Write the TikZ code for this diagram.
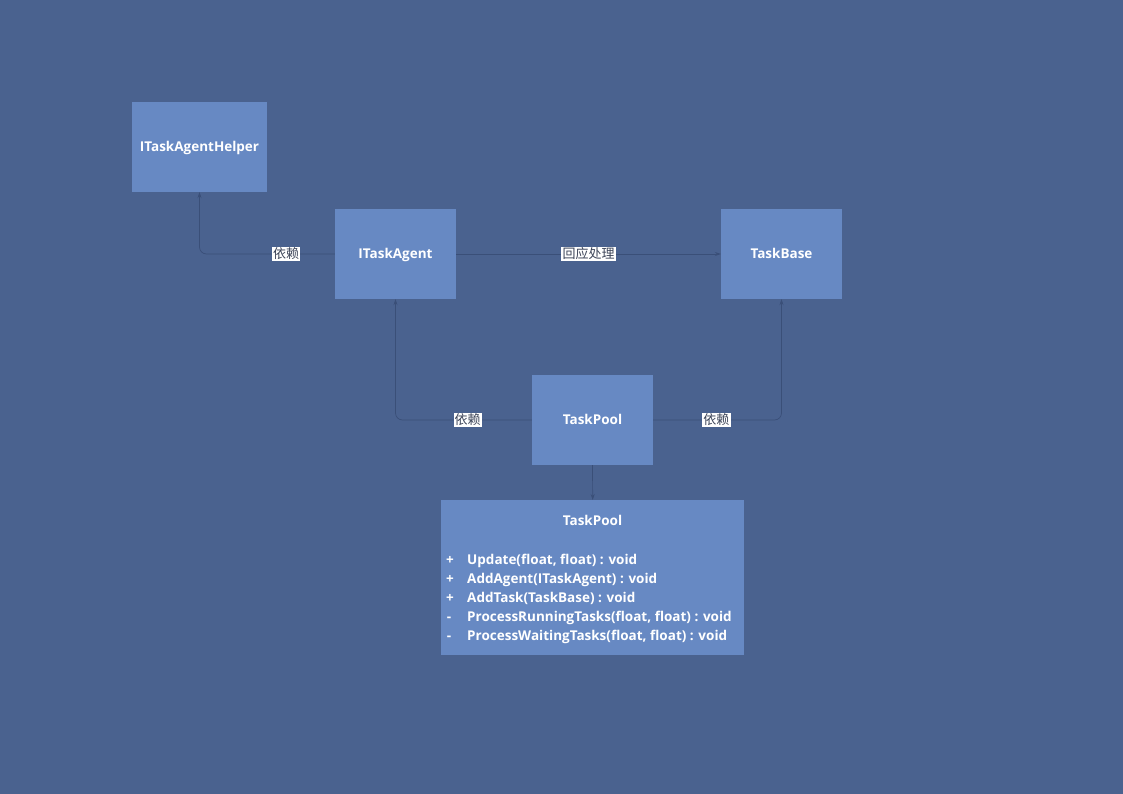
\documentclass[tikz,border=0pt]{standalone}
\usepackage{fontspec}
\setmainfont{Open Sans}
\newfontfamily\cjk{Noto Sans CJK SC}
\usetikzlibrary{arrows.meta}
\definecolor{bgblue}{RGB}{74,98,143}
\definecolor{boxblue}{RGB}{103,137,195}
\definecolor{linkblue}{RGB}{58,79,120}
\definecolor{labeltext}{RGB}{60,68,88}
\begin{document}
\begin{tikzpicture}[x=1pt,y=-1pt,
  cls/.style={fill=boxblue, draw=none, minimum width=121pt, minimum height=90pt,
    inner sep=0pt, text height=9.6pt, text depth=0pt, text=white,
    font=\fontsize{13.5}{16}\selectfont\bfseries},
  link/.style={draw=linkblue, line width=0.7pt, rounded corners=7pt,
    -{Stealth[length=6pt,width=4pt]}},
  tag/.style={fill=white, text=labeltext, inner sep=1.2pt, sharp corners,
    font=\cjk\fontsize{13}{15}\selectfont}]
  % page background
  \fill[bgblue] (0,0) rectangle (1123,794);
  \useasboundingbox (0,0) rectangle (1123,794);

  % class boxes
  \node[cls, minimum width=135pt] (helper) at (199.5,147) {ITaskAgentHelper};
  \node[cls] (agent) at (395.5,254) {ITaskAgent};
  \node[cls] (base) at (781.5,254) {TaskBase};
  \node[cls] (pool) at (592.5,420) {TaskPool};

  % detailed class box for TaskPool
  \node[fill=boxblue, minimum width=303pt, minimum height=155pt, inner sep=0pt,
        anchor=north west] (detail) at (441,500) {};
  \begin{scope}[every node/.style={text=white, inner sep=0pt,
      font=\fontsize{13.5}{16}\selectfont\bfseries}]
    \node[anchor=base] (title) at (592.5,525) {TaskPool};
    \node[anchor=base west] (m1) at (467,564) {Update(float, float) : void};
    \node[anchor=base west] (m2) at (467,583) {AddAgent(ITaskAgent) : void};
    \node[anchor=base west] (m3) at (467,602) {AddTask(TaskBase) : void};
    \node[anchor=base west] (m4) at (467,621) {ProcessRunningTasks(float, float) : void};
    \node[anchor=base west] (m5) at (467,640) {ProcessWaitingTasks(float, float) : void};
    \node[anchor=base] (v1) at (450,564) {+};
    \node[anchor=base] (v2) at (450,583) {+};
    \node[anchor=base] (v3) at (450,602) {+};
    \node[anchor=base] (v4) at (449,621) {-};
    \node[anchor=base] (v5) at (449,640) {-};
  \end{scope}

  % connectors
  \draw[link] (agent.west) -| (helper.south)
    node[tag, pos=0.18] {依赖};
  \draw[link] (agent.east) -- (base.west)
    node[tag, midway] {回应处理};
  \draw[link] (pool.west) -| (agent.south)
    node[tag, pos=0.235] {依赖};
  \draw[link] (pool.east) -| (base.south)
    node[tag, pos=0.246] {依赖};
  \draw[link] (pool.south) -- (detail.north);
\end{tikzpicture}
\end{document}
